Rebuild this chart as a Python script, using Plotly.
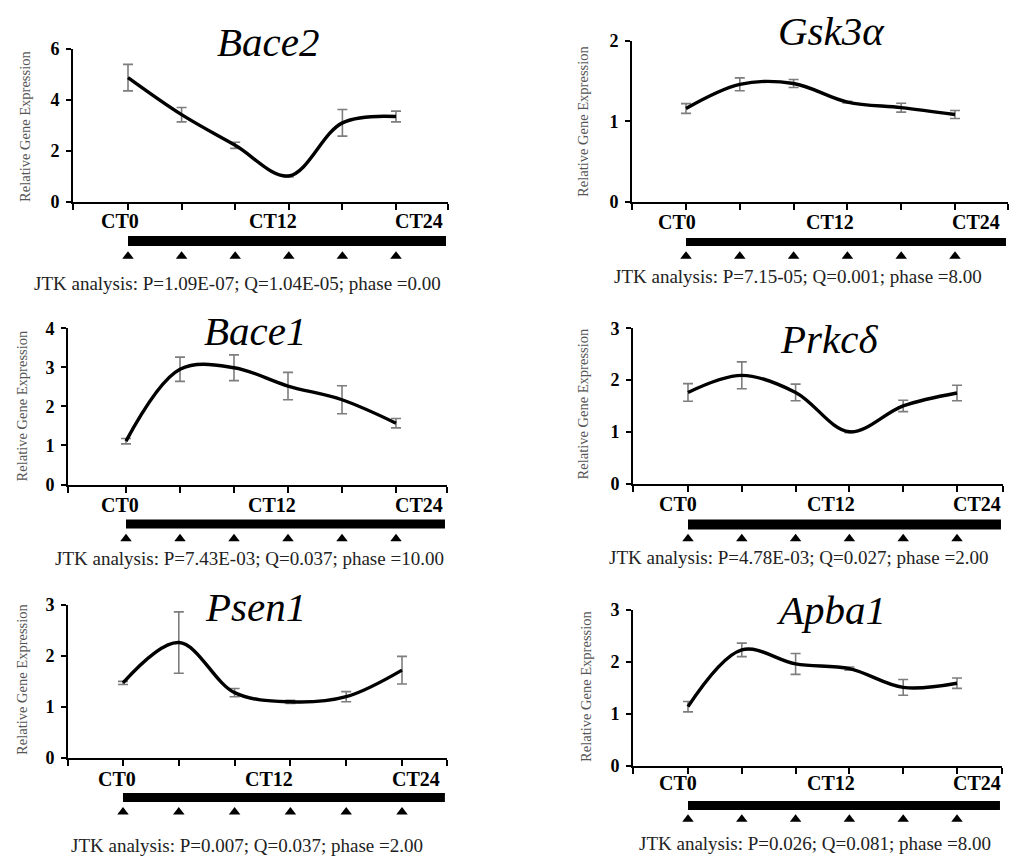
import plotly.graph_objects as go

W, H = 1021, 859

# ---------------- data ----------------
time_points = [0, 4, 8, 12, 16, 20]          # CT hours of sampling
genes = ["Bace2", "Gsk3α", "Bace1", "Prkcδ", "Psen1", "Apba1"]

bace2_mean = [4.87, 3.42, 2.22, 1.02, 3.10, 3.35]
bace2_err = [0.52, 0.28, 0.12, 0.04, 0.52, 0.21]
gsk3a_mean = [1.16, 1.46, 1.47, 1.24, 1.17, 1.085]
gsk3a_err = [0.06, 0.08, 0.05, 0.01, 0.055, 0.05]
bace1_mean = [1.11, 2.95, 2.99, 2.52, 2.17, 1.57]
bace1_err = [0.07, 0.31, 0.33, 0.35, 0.36, 0.12]
prkcd_mean = [1.76, 2.09, 1.76, 1.00, 1.50, 1.75]
prkcd_err = [0.17, 0.26, 0.16, 0.02, 0.11, 0.15]
psen1_mean = [1.47, 2.26, 1.28, 1.10, 1.20, 1.72]
psen1_err = [0.03, 0.60, 0.08, 0.03, 0.10, 0.27]
apba1_mean = [1.14, 2.23, 1.96, 1.87, 1.51, 1.59]
apba1_err = [0.10, 0.13, 0.20, 0.03, 0.15, 0.10]

means = [bace2_mean, gsk3a_mean, bace1_mean, prkcd_mean, psen1_mean, apba1_mean]
errs = [bace2_err, gsk3a_err, bace1_err, prkcd_err, psen1_err, apba1_err]

y_max = [6, 2, 4, 3, 3, 3]
y_dtick = [2, 1, 1, 1, 1, 1]
ct_labels = ["CT0", "CT12", "CT24"]
dark_phase = [0, 24]
jtk_texts = [
    "JTK analysis: P=1.09E-07; Q=1.04E-05; phase =0.00",
    "JTK analysis: P=7.15-05; Q=0.001; phase =8.00",
    "JTK analysis: P=7.43E-03; Q=0.037; phase =10.00",
    "JTK analysis: P=4.78E-03; Q=0.027; phase =2.00",
    "JTK analysis: P=0.007; Q=0.037; phase =2.00",
    "JTK analysis: P=0.026; Q=0.081; phase =8.00",
]
y_title = "Relative Gene Expression"

# ---------------- layout geometry (target pixels) ----------------
panels = [
    dict(x0=73, ct0=128, ct20=396, xend=448, y0=203, ytop=50, bar=(237, 247), tri=257,
         title=(268, 43), ytitle=(25, 128), ct=[(120, 222), (273, 222), (419, 222)], jtk=(237, 284)),
    dict(x0=632, ct0=686, ct20=955, xend=1008, y0=203, ytop=42, bar=(239, 247), tri=257,
         title=(831, 32), ytitle=(583, 123), ct=[(677, 223), (830, 223), (976, 223)], jtk=(798, 277)),
    dict(x0=68, ct0=126, ct20=396, xend=447, y0=485, ytop=329, bar=(520, 529), tri=539,
         title=(255, 332), ytitle=(22, 407), ct=[(120, 505), (272, 505), (419, 505)], jtk=(249, 559)),
    dict(x0=633, ct0=688, ct20=957, xend=1003, y0=484, ytop=329, bar=(520, 530), tri=539,
         title=(829, 340), ytitle=(583, 405), ct=[(678, 504), (831, 504), (977, 504)], jtk=(798, 558)),
    dict(x0=68, ct0=123, ct20=402, xend=447, y0=758, ytop=605, bar=(793, 802), tri=812,
         title=(255, 607), ytitle=(22, 680), ct=[(117, 779), (269, 779), (416, 779)], jtk=(247, 845)),
    dict(x0=633, ct0=688, ct20=957, xend=1002, y0=766, ytop=610, bar=(801, 810), tri=819,
         title=(831, 610), ytitle=(586, 687), ct=[(678, 783), (831, 783), (977, 783)], jtk=(815, 843)),
]

SERIF = "Liberation Serif"
# vertical calibration of the captured page (observed offset / scale)
V_OFF, V_K = 11.3, 0.975


def px_x(v):
    return v / W


def ly(v):
    return (v - V_OFF) / V_K


def px_y(v):
    return 1 - ly(v) / H


fig = go.Figure()
layout = dict(
    width=W, height=H, margin=dict(l=0, r=0, t=0, b=0),
    paper_bgcolor="white", plot_bgcolor="white", showlegend=False,
    font=dict(family=SERIF, color="black"),
)
annotations = []
shapes = []

for i, p in enumerate(panels):
    m = 2 * i + 1          # main axis index
    s = 2 * i + 2          # strip axis index
    scale = (p["ct20"] - p["ct0"]) / (time_points[-1] - time_points[0])
    xa = time_points[0] - (p["ct0"] - p["x0"]) / scale
    xb = time_points[-1] + (p["xend"] - p["ct20"]) / scale
    xdom = [px_x(p["x0"]), px_x(p["xend"])]

    layout[f"xaxis{m}"] = dict(
        domain=xdom, range=[xa, xb], anchor=f"y{m}",
        showline=True, linecolor="black", linewidth=2,
        ticks="outside", ticklen=6, tickwidth=1.5, tickcolor="black",
        tickvals=[xa] + time_points + [xb], showticklabels=False,
        showgrid=False, zeroline=False, fixedrange=True,
    )
    layout[f"yaxis{m}"] = dict(
        domain=[px_y(p["y0"]), px_y(p["ytop"])], range=[0, y_max[i]], anchor=f"x{m}",
        dtick=y_dtick[i], tick0=0,
        showline=True, linecolor="black", linewidth=2,
        ticks="outside", ticklen=5, tickwidth=1.5, tickcolor="black",
        tickfont=dict(family=SERIF, size=18, color="black", weight="bold"),
        ticklabelstandoff=3,
        showgrid=False, zeroline=False, fixedrange=True,
    )

    strip_top = ly(p["bar"][0] - 2)
    strip_bot = ly(p["tri"] + 10)
    layout[f"xaxis{s}"] = dict(
        domain=xdom, range=[xa, xb], anchor=f"y{s}", visible=False, fixedrange=True,
    )
    layout[f"yaxis{s}"] = dict(
        domain=[1 - strip_bot / H, 1 - strip_top / H], range=[strip_bot - strip_top, 0],
        anchor=f"x{s}", visible=False, fixedrange=True,
    )

    # data line with error bars
    fig.add_trace(go.Scatter(
        x=time_points, y=means[i], mode="lines",
        line=dict(color="black", width=3.4, shape="spline", smoothing=1.0),
        error_y=dict(type="data", array=errs[i], visible=True,
                     color="#7d7d7d", thickness=1.6, width=5),
        xaxis=f"x{m}", yaxis=f"y{m}", hoverinfo="skip",
    ))

    # triangles marking sampling times
    fig.add_trace(go.Scatter(
        x=time_points, y=[ly(p["tri"]) - strip_top] * len(time_points), mode="markers",
        marker=dict(symbol="triangle-up", size=10, color="black"),
        xaxis=f"x{s}", yaxis=f"y{s}", hoverinfo="skip", cliponaxis=False,
    ))

    # constant-darkness bar
    shapes.append(dict(
        type="rect", xref=f"x{s}", yref=f"y{s}",
        x0=dark_phase[0], x1=min(dark_phase[1], xb - 0.15),
        y0=ly(p["bar"][0]) - strip_top, y1=ly(p["bar"][1]) - strip_top,
        fillcolor="black", line=dict(width=0), layer="above",
    ))

    # gene title
    annotations.append(dict(
        text=f"<i>{genes[i]}</i>", x=px_x(p["title"][0]), y=px_y(p["title"][1]),
        xref="paper", yref="paper", xanchor="center", yanchor="middle",
        showarrow=False, font=dict(family=SERIF, size=41, color="black"),
    ))
    # y axis title
    annotations.append(dict(
        text=y_title, x=px_x(p["ytitle"][0]), y=px_y(p["ytitle"][1]),
        xref="paper", yref="paper", xanchor="center", yanchor="middle", textangle=-90,
        showarrow=False, font=dict(family=SERIF, size=14.5, color="#555555"),
    ))
    # CT labels
    for lab, (cx, cy) in zip(ct_labels, p["ct"]):
        annotations.append(dict(
            text=lab, x=px_x(cx), y=px_y(cy), xref="paper", yref="paper",
            xanchor="center", yanchor="middle", showarrow=False,
            font=dict(family=SERIF, size=20, color="black", weight="bold"),
        ))
    # JTK text
    annotations.append(dict(
        text=jtk_texts[i], x=px_x(p["jtk"][0]), y=px_y(p["jtk"][1]),
        xref="paper", yref="paper", xanchor="center", yanchor="middle",
        showarrow=False, font=dict(family=SERIF, size=19, color="#222222"),
    ))

layout["annotations"] = annotations
layout["shapes"] = shapes
fig.update_layout(**layout)
fig.write_html(
    "out.html",
    config={"displayModeBar": False},
    post_script="document.body.style.margin='0';document.body.style.overflow='hidden';",
)
